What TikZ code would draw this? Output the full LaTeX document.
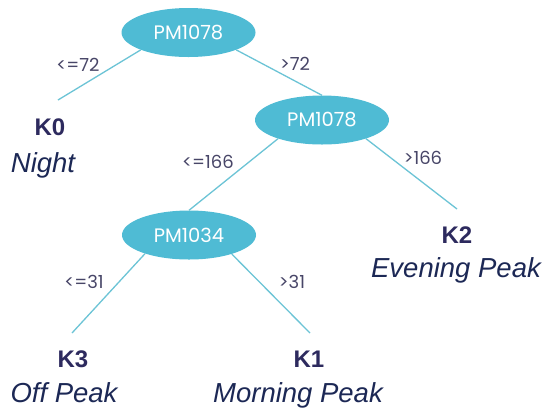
\documentclass[tikz,border=0pt]{standalone}
\usepackage{fontspec}
\setmainfont{Liberation Sans}
\newfontfamily\geo{Poppins}
\usetikzlibrary{shapes.geometric}
\definecolor{ellfill}{RGB}{79,187,212}
\definecolor{edgecol}{RGB}{108,196,214}
\definecolor{lblcol}{RGB}{72,70,104}
\definecolor{kcol}{RGB}{45,42,94}
\definecolor{namecol}{RGB}{28,40,85}
\begin{document}
\begin{tikzpicture}[x=1pt,y=-1pt,
  splitnode/.style={ellipse, fill=ellfill, draw=none, minimum width=134pt, minimum height=49pt, inner sep=0pt, text=white, font=\geo\fontsize{19.5}{19.5}\selectfont},
  conn/.style={draw=edgecol, line width=1.3pt},
  edgelbl/.style={text=lblcol, font=\geo\fontsize{18}{18}\selectfont, inner sep=0pt},
  kname/.style={text=kcol, font=\fontsize{24}{24}\selectfont\bfseries, anchor=base, inner sep=0pt},
  cname/.style={text=namecol, font=\fontsize{27.5}{27.5}\selectfont\itshape, anchor=base, inner sep=0pt}]
\useasboundingbox (0,0) rectangle (546,408);
\fill[white] (0,0) rectangle (546,408);
% split nodes
\node[splitnode] (root) at (188.5,32.5) {PM1078};
\node[splitnode] (mid) at (322,120) {PM1078};
\node[splitnode] (low) at (189,235) {PM1034};
% leaves
\node[kname] (k0) at (50,135) {K0};
\node[cname] (n0) at (43,172) {Night};
\node[kname] (k2) at (457,243) {K2};
\node[cname] (n2) at (456,277) {Evening Peak};
\node[kname] (k3) at (73,367) {K3};
\node[cname] (n3) at (64,402) {Off Peak};
\node[kname] (k1) at (309,367) {K1};
\node[cname] (n1) at (298,402) {Morning Peak};
% connector ends
\coordinate (e0) at (58,100);
\coordinate (e2) at (457,209);
\coordinate (e3) at (72,333);
\coordinate (e1) at (310,333);
% connectors
\draw[conn] (root.200) -- (e0);
\draw[conn] (root.-20) -- (mid.north);
\draw[conn] (mid.203) -- (low.north);
\draw[conn] (mid.-23) -- (e2);
\draw[conn] (low.203) -- (e3);
\draw[conn] (low.-24) -- (e1);
% edge labels
\node[edgelbl] (l1) at (78,65) {<=72};
\node[edgelbl] (l2) at (295,64) {>72};
\node[edgelbl] (l3) at (208,162) {<=166};
\node[edgelbl] (l4) at (423,158) {>166};
\node[edgelbl] (l5) at (84,282) {<=31};
\node[edgelbl] (l6) at (292,282) {>31};
\end{tikzpicture}
\end{document}
